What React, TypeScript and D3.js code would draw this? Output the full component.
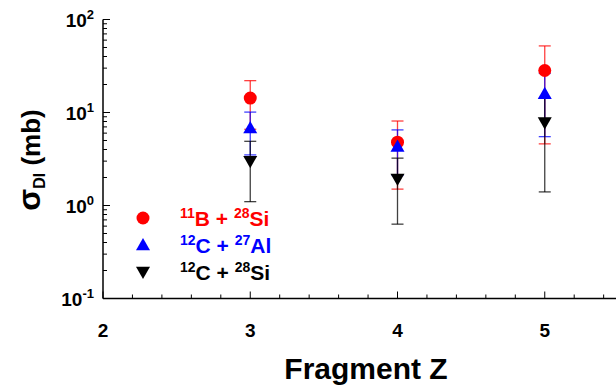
import React from "react";
import * as d3 from "d3";

const fragZ = [3, 4, 5];
const seriesNames = ["B28Si", "C27Al", "C28Si"];
const redVals = [14.3, 4.8, 28.3];
const redErr = [7.7, 3.3, 23.7];
const blueVals = [6.8, 4.3, 15.9];
const blueErr = [3.3, 2.2, 10.4];
const blackVals = [3.0, 1.93, 7.8];
const blackErr = [1.9, 1.3, 6.4];
const yTickExps = [-1, 0, 1, 2];
const xTickLabels = [2, 3, 4, 5];

const W = 616;
const H = 385;
const font = "'Liberation Sans', Arial, sans-serif";

export default function App() {
  const x = d3.scaleLinear().domain([2, 6]).range([103, 692]);
  const y = d3.scaleLog().domain([0.1, 100]).range([298.5, 19.5]);

  const series = [
    { name: seriesNames[0], vals: redVals, err: redErr, color: "#ff0000", shape: "circle", label: ["11", "B + ", "28", "Si"] },
    { name: seriesNames[1], vals: blueVals, err: blueErr, color: "#0000ff", shape: "up", label: ["12", "C + ", "27", "Al"] },
    { name: seriesNames[2], vals: blackVals, err: blackErr, color: "#000000", shape: "down", label: ["12", "C + ", "28", "Si"] },
  ];

  const marker = (shape: string, cx: number, cy: number, color: string, key: string) => {
    if (shape === "circle") return <circle key={key} cx={cx} cy={cy} r={6.5} fill={color} />;
    const s = 7;
    const pts =
      shape === "up"
        ? `${cx},${cy - s} ${cx - s},${cy + s * 0.75} ${cx + s},${cy + s * 0.75}`
        : `${cx},${cy + s} ${cx - s},${cy - s * 0.75} ${cx + s},${cy - s * 0.75}`;
    return <polygon key={key} points={pts} fill={color} />;
  };

  const minorX = d3.range(2, 6.001, 0.2);
  const minorY: number[] = [];
  for (let e = -1; e < 2; e++) for (let m = 2; m <= 9; m++) minorY.push(m * Math.pow(10, e));

  const y0 = y(0.1);
  const x0 = x(2);

  return (
    <svg width={W} height={H} style={{ position: "absolute", left: 0, top: 0 }}>
      <rect width={W} height={H} fill="#fff" />
      {/* axes */}
      <line x1={x0} x2={W} y1={y0} y2={y0} stroke="#000" strokeWidth={1.5} />
      <line x1={x0} x2={x0} y1={y(100)} y2={y0} stroke="#000" strokeWidth={1.5} />
      {minorX.map((v, i) => {
        const major = Math.abs(v - Math.round(v)) < 1e-6;
        return <line key={"xt" + i} x1={x(v)} x2={x(v)} y1={y0} y2={y0 - (major ? 7 : 4)} stroke="#000" strokeWidth={1} />;
      })}
      {yTickExps.map((e) => (
        <line key={"ytM" + e} x1={x0} x2={x0 + 7} y1={y(Math.pow(10, e))} y2={y(Math.pow(10, e))} stroke="#000" strokeWidth={1} />
      ))}
      {minorY.map((v, i) => (
        <line key={"ytm" + i} x1={x0} x2={x0 + 4} y1={y(v)} y2={y(v)} stroke="#000" strokeWidth={1} />
      ))}
      {/* tick labels */}
      {xTickLabels.map((v) => (
        <text key={"xl" + v} x={x(v)} y={337} textAnchor="middle" fontFamily={font} fontWeight="bold" fontSize={19}>
          {v}
        </text>
      ))}
      {yTickExps.map((e) => (
        <text key={"yl" + e} x={94} y={y(Math.pow(10, e)) + 7} textAnchor="end" fontFamily={font} fontWeight="bold" fontSize={19}>
          10
          <tspan dy={-8} fontSize={13}>{e}</tspan>
        </text>
      ))}
      {/* titles */}
      <text x={366} y={379} textAnchor="middle" fontFamily={font} fontWeight="bold" fontSize={30}>
        Fragment Z
      </text>
      <text transform="translate(40,160) rotate(-90)" textAnchor="middle" fontFamily={font} fontWeight="bold" fontSize={26}>
        <tspan fontSize={32}>σ</tspan>
        <tspan fontSize={16} dy={5}>DI</tspan>
        <tspan dy={-5}> (mb)</tspan>
      </text>
      {/* error bars */}
      {series.map((s) =>
        fragZ.map((z, i) => {
          const cx = x(z);
          const hi = y(s.vals[i] + s.err[i]);
          const lo = y(Math.max(s.vals[i] - s.err[i], 0.1));
          return (
            <g key={s.name + "e" + i} stroke={s.color} strokeOpacity={0.75} strokeWidth={1.3}>
              <line x1={cx} x2={cx} y1={hi} y2={lo} />
              <line x1={cx - 6} x2={cx + 6} y1={hi} y2={hi} />
              <line x1={cx - 6} x2={cx + 6} y1={lo} y2={lo} />
            </g>
          );
        })
      )}
      {series.map((s) => fragZ.map((z, i) => marker(s.shape, x(z), y(s.vals[i]), s.color, s.name + "m" + i)))}
      {/* legend */}
      {series.map((s, i) => {
        const ly = 218 + i * 27;
        return (
          <g key={"lg" + i}>
            {marker(s.shape, 143, ly, s.color, "lm" + i)}
            <text x={180} y={ly + 8} fontFamily={font} fontWeight="bold" fontSize={21}>
              <tspan fill={s.color} fontSize={14} dy={-8}>{s.label[0]}</tspan>
              <tspan fill={s.color} dy={8}>{s.label[1]}</tspan>
              <tspan fill={s.color} fontSize={14} dy={-8}>{s.label[2]}</tspan>
              <tspan fill={s.color} dy={8}>{s.label[3]}</tspan>
            </text>
          </g>
        );
      })}
    </svg>
  );
}
